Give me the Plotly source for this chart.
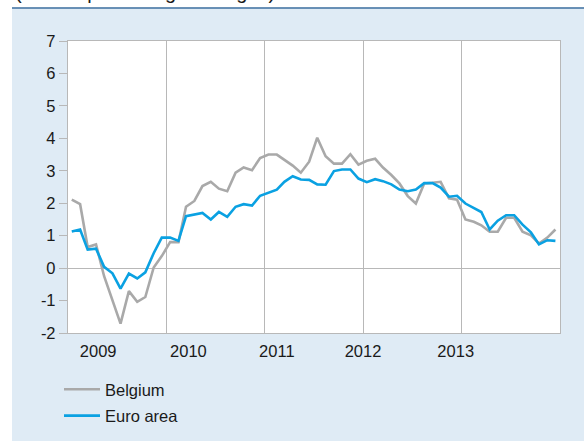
import pandas as pd
import plotly.graph_objects as go

# ---- data -------------------------------------------------------------
months = pd.date_range("2009-01-01", periods=60, freq="MS") + pd.Timedelta(days=14)

belgium = [2.11, 1.97, 0.65, 0.73, -0.25, -0.99, -1.71, -0.71, -1.04, -0.89, 0.02, 0.37,
           0.80, 0.80, 1.89, 2.07, 2.53, 2.66, 2.45, 2.37, 2.94, 3.10, 3.02, 3.39,
           3.50, 3.50, 3.34, 3.16, 2.94, 3.28, 4.02, 3.45, 3.22, 3.22, 3.51, 3.19,
           3.31, 3.37, 3.10, 2.87, 2.61, 2.22, 1.99, 2.61, 2.63, 2.66, 2.15, 2.11,
           1.50, 1.43, 1.32, 1.12, 1.12, 1.55, 1.55, 1.12, 1.01, 0.76, 0.94, 1.19]

euro_area = [1.13, 1.19, 0.57, 0.60, 0.04, -0.16, -0.63, -0.17, -0.32, -0.13, 0.46, 0.94,
             0.94, 0.84, 1.60, 1.65, 1.70, 1.50, 1.73, 1.58, 1.89, 1.97, 1.93, 2.23,
             2.32, 2.42, 2.66, 2.83, 2.73, 2.72, 2.58, 2.57, 2.99, 3.04, 3.04, 2.76,
             2.65, 2.74, 2.68, 2.58, 2.42, 2.37, 2.42, 2.62, 2.62, 2.48, 2.20, 2.23,
             1.99, 1.84, 1.73, 1.19, 1.46, 1.63, 1.63, 1.34, 1.10, 0.73, 0.86, 0.84]

year_labels = ["2009", "2010", "2011", "2012", "2013"]
year_label_dates = ["2009-04-23", "2010-03-24", "2011-02-15", "2012-01-01", "2012-12-10"]
y_ticks = [-2, -1, 0, 1, 2, 3, 4, 5, 6, 7]
y_tick_text = ["-2", "-1", "0", "1", "2", "3", "4", "5", "6", "7"]

# ---- style ------------------------------------------------------------
BG = "#dfebf5"
GRID = "#b8b8b8"
GRAY = "#a9a9a9"
BLUE = "#0aa1e2"
FONT = "Liberation Sans, Arial, sans-serif"

fig = go.Figure()
fig.add_trace(go.Scatter(x=months, y=belgium, mode="lines", name="Belgium",
                         legendgroup="be",
                         line=dict(color=GRAY, width=2.6)))
fig.add_trace(go.Scatter(x=months, y=euro_area, mode="lines", name="Euro area",
                         legendgroup="ea",
                         line=dict(color=BLUE, width=2.6)))

W, H = 584, 441
L, R, T, B = 68, 24, 41, 108
pw, ph = W - L - R, H - T - B


def px_x(p):
    return (p - L) / pw


def px_y(p):
    return (H - B - p) / ph


fig.update_layout(
    template="none",
    width=W, height=H,
    margin=dict(l=L, r=R, t=T, b=B, pad=0, autoexpand=False),
    paper_bgcolor=BG,
    plot_bgcolor="white",
    font=dict(family=FONT, size=16.5, color="#1a1a1a"),
    showlegend=True,
    legend=dict(x=px_x(59), xanchor="left", y=px_y(372), yanchor="top",
                bgcolor="rgba(0,0,0,0)", itemwidth=36,
                traceorder="grouped", tracegroupgap=2,
                font=dict(family=FONT, size=16.5, color="#1a1a1a")),
    xaxis=dict(
        range=["2009-01-01", "2014-01-01"],
        showgrid=False, zeroline=False, automargin=False,
        tickmode="array", tickvals=year_label_dates, ticktext=year_labels,
        ticks="", ticklabelstandoff=3,
        showline=True, mirror=True, linecolor=GRID, linewidth=1.3,
        minor=dict(tick0="2009-01-01", dtick="M12", showgrid=True,
                   gridcolor=GRID, gridwidth=1.3, ticks=""),
    ),
    yaxis=dict(
        range=[-2, 7], tickmode="array", tickvals=y_ticks, ticktext=y_tick_text,
        showgrid=False, automargin=False,
        zeroline=True, zerolinecolor=GRID, zerolinewidth=1.3,
        ticks="outside", ticklen=8, tickcolor=GRID, tickwidth=1.3,
        showline=True, mirror=True, linecolor=GRID, linewidth=1.3,
    ),
    shapes=[
        dict(type="rect", xref="paper", yref="paper", layer="below",
             x0=px_x(-5), x1=px_x(12), y0=px_y(450), y1=px_y(-5),
             fillcolor="white", line=dict(width=0)),
        dict(type="rect", xref="paper", yref="paper", layer="below",
             x0=px_x(-5), x1=px_x(590), y0=px_y(7.5), y1=px_y(-5),
             fillcolor="white", line=dict(width=0)),
        dict(type="line", xref="paper", yref="paper", layer="below",
             x0=px_x(12), x1=px_x(590), y0=px_y(8), y1=px_y(8),
             line=dict(color="#3e6f9f", width=1.6)),
    ],
    annotations=[
        dict(text="(annual percentage changes)", xref="paper", yref="paper",
             x=px_x(13), y=px_y(5.5), xanchor="left", yanchor="bottom",
             showarrow=False, font=dict(family=FONT, size=20, color="#1a1a1a")),
    ],
)

fig.write_html("out.html",
               config={"displayModeBar": False},
               post_script="document.body.style.margin='0';document.body.style.overflow='hidden';")
